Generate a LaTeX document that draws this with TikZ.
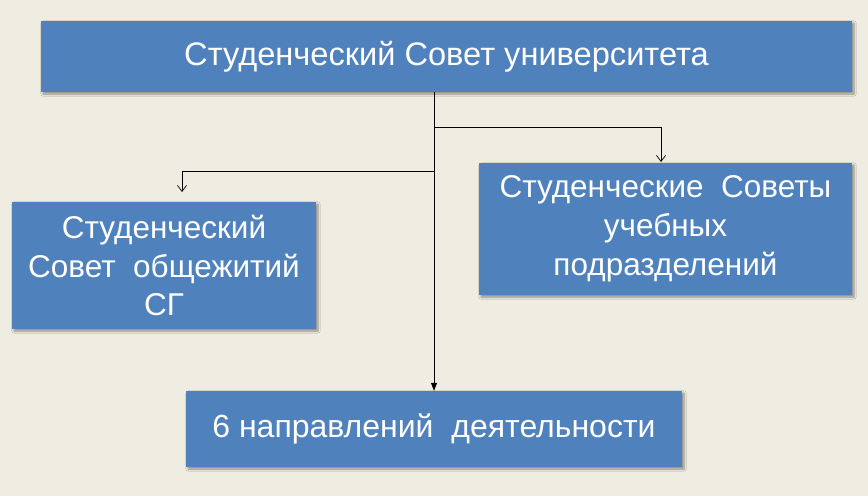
\documentclass[tikz,border=0pt]{standalone}
\usepackage{fontspec}
\setmainfont{Liberation Sans}
\usetikzlibrary{arrows.meta,shadows.blur}
\definecolor{bg}{HTML}{EFECE2}
\definecolor{boxblue}{HTML}{4F81BD}
\tikzset{
  box/.style={rectangle, fill=boxblue, text=white, align=center, inner sep=0pt,
    blur shadow={shadow xshift=2pt, shadow yshift=-2pt, shadow blur steps=6, shadow opacity=40}},
  conn/.style={draw=black, line width=0.8pt},
  openarr/.style={-{Straight Barb[length=6pt,width=9pt,line width=0.7pt]}},
  fillarr/.style={-{Triangle[length=8pt,width=6pt]}},
}
\begin{document}
\begin{tikzpicture}[x=1pt,y=-1pt]
\fill[bg] (0,0) rectangle (868,496);
\useasboundingbox (0,0) rectangle (868,496);
\node[box, minimum width=811pt, minimum height=71pt, font=\fontsize{32.6}{38}\selectfont] (top) at (446.5,56.5) {Студенческий Совет университета};
\node[box, minimum width=304pt, minimum height=127pt, font=\fontsize{31.5}{38.5}\selectfont, text depth=0pt] (left) at (164,265.5) {Студенческий\\Совет\ \ общежитий\\СГ};
\node[box, minimum width=373pt, minimum height=132pt, font=\fontsize{31.5}{39}\selectfont] (right) at (665.5,229) {\raisebox{-2pt}{\parbox{373pt}{\centering Студенческие\ \ Советы\\учебных\\подразделений}}};
\node[box, minimum width=496pt, minimum height=76pt, font=\fontsize{32}{38}\selectfont] (bot) at (434,429) {6 направлений\ \ деятельности};
\coordinate (jr) at (434,127);
\coordinate (jl) at (434,171);
\coordinate (ra) at (661,162);
\coordinate (la) at (182,192);
\draw[conn, fillarr] (top.south -| bot.north) -- (bot.north);
\draw[conn, openarr] (jr) -| (ra);
\draw[conn, openarr] (jl) -| (la);
\end{tikzpicture}
\end{document}
